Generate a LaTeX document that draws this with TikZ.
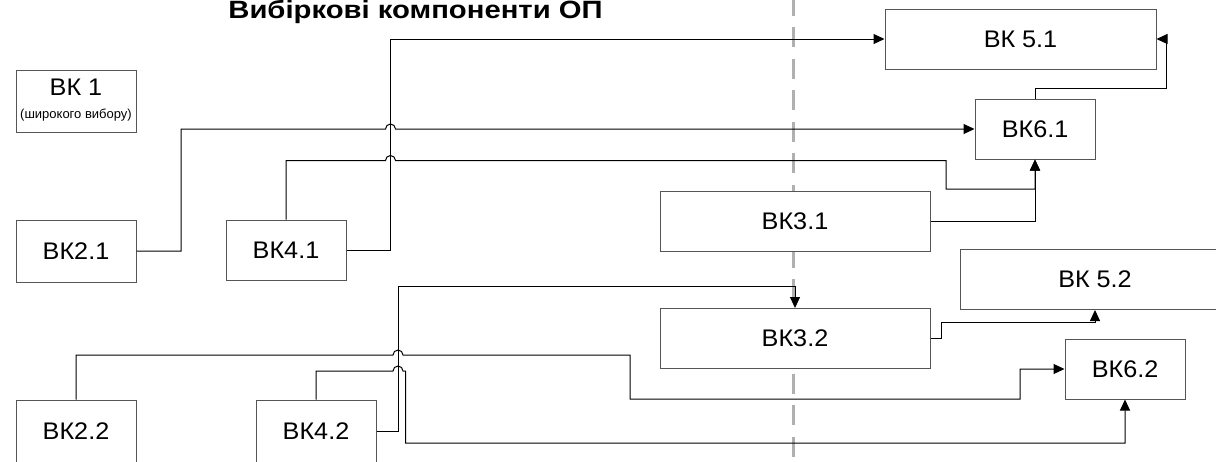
\documentclass[tikz,border=0pt]{standalone}
\usepackage{fontspec}
\setmainfont{Liberation Sans}
\newfontfamily\labfont[FakeStretch=1.05]{Liberation Sans}
\newfontfamily\titlefont[FakeStretch=1.17]{Liberation Sans}
\usetikzlibrary{arrows.meta,positioning}
\definecolor{boxgray}{HTML}{555555}
\definecolor{dashgray}{HTML}{B0B0B0}

\begin{document}
\begin{tikzpicture}[x=0.5pt,y=-0.5pt,>={Triangle[length=5.5pt,width=5pt]},
    box node/.style={draw=boxgray,fill=white,line width=0.5pt,inner sep=0pt,font=\labfont\fontsize{12}{14}\selectfont,minimum height=30pt},
    small box/.style={box node,minimum width=60pt},
    wide box/.style={box node,minimum width=135pt},
    link/.style={draw=black,line width=0.5pt}]
    \useasboundingbox (0,0) rectangle (1216,461);
    % Розділювальна лінія
    \draw[dashgray,line width=1.5pt,dash pattern=on 10pt off 5.75pt] (793,-4.5) coordinate (top) -- (793,470) coordinate (bottom);
    
    % Заголовок
    \node[font=\titlefont\fontsize{12.5}{14}\selectfont\bfseries,anchor=base] (title) at (415.5,18.5) {Вибіркові компоненти ОП};
    
    % Блоки
    \node[small box,minimum height=31pt] (vk1) at (76,101) {};
    \node[font=\labfont\fontsize{12}{14}\selectfont] (vk1a) at (76,87) {ВК 1};
    \node[font=\fontsize{6.5}{7}\selectfont] (vk1b) at (76,115) {(широкого вибору)};
    \node[small box,minimum height=31pt] (vk21) at (76,251) {ВК2.1};
    \node[small box] (vk41) at (286,250) {ВК4.1};
    \node[small box,minimum height=31pt] (vk22) at (76,431) {ВК2.2};
    \node[small box,minimum height=31pt] (vk42) at (316,431) {ВК4.2};
    \node[wide box] (vk31) at (795,221) {ВК3.1};
    \node[wide box] (vk32) at (795,338.5) {ВК3.2};
    \node[wide box,minimum width=135.5pt] (vk51) at (1020.5,39) {ВК 5.1};
    \node[wide box] (vk52) at (1095,279.5) {ВК 5.2};
    \node[small box] (vk61) at (1035,129) {ВК6.1};
    \node[small box] (vk62) at (1125,369) {ВК6.2};
    
    % Зв'язки верхньої частини
    \draw[link,->] (vk21.east) -- (181,251) |- (385.5,129) arc[start angle=180,end angle=0,radius=2.5pt] -- (vk61.west);
    \draw[link,->] (vk41.east) -| (390.5,39) -- (vk51.west);
    \draw[link,->] (vk41.north) |- (385.5,160.5) arc[start angle=180,end angle=0,radius=2.5pt] -- (946,160.5) |- (1035,189) -- (vk61.south);
    \draw[link,->] (vk31.east) -| (vk61.south);
    \draw[link,->] (vk61.north) |- (1166,88) |- (vk51.east);
    
    % Зв'язки нижньої частини
    \draw[link,->] (vk42.east) -| (398,286) -| (vk32.north);
    \draw[link,->] (vk22.north) |- (393,355) arc[start angle=180,end angle=0,radius=2.5pt] -- (630,355) |- (1020,399) |- (vk62.west);
    \draw[link,->] (vk42.north) |- (393,371) arc[start angle=180,end angle=0,radius=2.5pt] -- (405.5,371) |- (1125,443) -- (vk62.south);
    \draw[link,->] (vk32.east) -| (941,322) -| (vk52.south);
\end{tikzpicture}
\end{document}
